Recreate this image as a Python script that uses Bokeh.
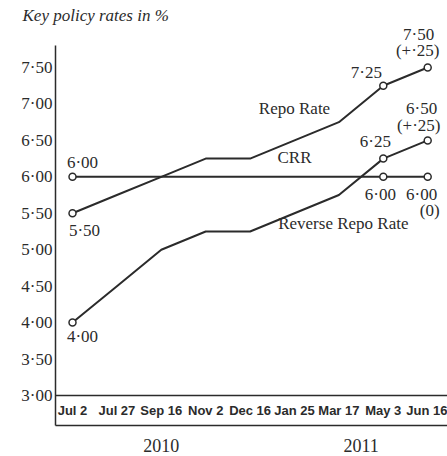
from bokeh.plotting import figure
from bokeh.models import Range1d, FixedTicker, LinearAxis, Label
from bokeh.embed import file_html
from bokeh.resources import INLINE

# ---- data ----
dates = ["Jul 2", "Jul 27", "Sep 16", "Nov 2", "Dec 16", "Jan 25", "Mar 17", "May 3", "Jun 16"]
years = ["2010", "2011"]
year_first_idx = [0, 5]
year_last_idx = [4, 8]
repo = [5.50, 5.75, 6.00, 6.25, 6.25, 6.50, 6.75, 7.25, 7.50]
reverse_repo = [4.00, 4.50, 5.00, 5.25, 5.25, 5.50, 5.75, 6.25, 6.50]
crr = [6.00, 6.00, 6.00, 6.00, 6.00, 6.00, 6.00, 6.00, 6.00]
y_ticks = [3.0, 3.5, 4.0, 4.5, 5.0, 5.5, 6.0, 6.5, 7.0, 7.5]
y_tick_labels = ["3·00", "3·50", "4·00", "4·50", "5·00", "5·50", "6·00", "6·50", "7·00", "7·50"]
marked_idx = [0, 7, 8]
last_change = {"repo": "(+·25)", "reverse": "(+·25)", "crr": "(0)"}

series = {"repo": repo, "reverse": reverse_repo, "crr": crr}
x = list(range(len(dates)))

INK = "#2b2b2b"
SERIF = "Liberation Serif"
Y_BOTTOM = 2.588
Y_AXIS_TOP = 7.80

p = figure(width=447, height=456,
           x_range=Range1d(-0.383, 8.446), y_range=Range1d(Y_BOTTOM, 8.09),
           output_backend="svg", toolbar_location=None,
           min_border_left=55, min_border_right=0, min_border_top=24, min_border_bottom=31)
p.outline_line_color = None
p.grid.visible = False
p.background_fill_color = "white"
p.border_fill_color = "white"

# title
p.title.text = "Key policy rates in %"
p.title.text_font = SERIF
p.title.text_font_style = "italic"
p.title.text_font_size = "17px"
p.title.text_color = INK
p.title.align = "left"
p.title.offset = -33
p.title.standoff = 0

# y axis
ya = p.yaxis[0]
ya.ticker = FixedTicker(ticks=y_ticks)
ya.bounds = (Y_BOTTOM, Y_AXIS_TOP)
ya.major_label_overrides = dict(zip(y_ticks, y_tick_labels))
ya.major_label_text_font = SERIF
ya.major_label_text_font_size = "17px"
ya.major_label_text_color = INK
ya.major_tick_line_color = None
ya.minor_tick_line_color = None
ya.major_tick_out = 0
ya.major_tick_in = 0
ya.major_label_standoff = 3
ya.axis_line_color = INK
ya.axis_line_width = 1.5

# year axis at frame bottom
xa = p.xaxis[0]
year_pos = [(a + b) / 2 for a, b in zip(year_first_idx, year_last_idx)]
xa.ticker = FixedTicker(ticks=year_pos)
xa.major_label_overrides = dict(zip(year_pos, years))
xa.major_label_text_font = SERIF
xa.major_label_text_font_size = "18px"
xa.major_label_text_color = INK
xa.major_tick_line_color = None
xa.minor_tick_line_color = None
xa.major_tick_out = 0
xa.major_tick_in = 0
xa.major_label_standoff = 13
xa.axis_line_color = INK
xa.axis_line_width = 1.5

# date axis at 3.00
da = LinearAxis(ticker=FixedTicker(ticks=x),
                major_label_overrides=dict(zip(x, dates)),
                fixed_location=3.0)
da.major_label_text_font = "Liberation Sans"
da.major_label_text_font_style = "bold"
da.major_label_text_font_size = "13px"
da.major_label_text_color = INK
da.major_tick_line_color = None
da.minor_tick_line_color = None
da.major_tick_out = 0
da.major_tick_in = 0
da.major_label_standoff = 8
da.axis_line_color = INK
da.axis_line_width = 1.5
p.add_layout(da, "below")

# lines and markers
for key, vals in series.items():
    p.line(x, vals, line_color=INK, line_width=2)
for key, vals in series.items():
    p.scatter([x[i] for i in marked_idx], [vals[i] for i in marked_idx],
              marker="circle", size=7, fill_color="white", line_color=INK, line_width=1.5)

def fmt(v):
    return f"{v:.2f}".replace(".", "·")

# value annotations: (series, index, dx, dy)
value_specs = [
    ("crr", 0, 10, 14), ("repo", 0, 12, -17), ("reverse", 0, 10, -14),
    ("repo", 7, -17, 13), ("repo", 8, -9, 33),
    ("reverse", 7, -8, 17), ("reverse", 8, -6, 32),
    ("crr", 7, -3, -18), ("crr", 8, -6, -18),
]
for key, i, dx, dy in value_specs:
    p.add_layout(Label(x=x[i], y=series[key][i], text=fmt(series[key][i]),
                       x_offset=dx, y_offset=dy, text_align="center", text_baseline="middle",
                       text_font=SERIF, text_font_size="17px", text_color=INK))
change_specs = [("repo", -10, 17), ("reverse", -9, 15), ("crr", 2, -34)]
last = len(x) - 1
for key, dx, dy in change_specs:
    p.add_layout(Label(x=x[last], y=series[key][last], text=last_change[key],
                       x_offset=dx, y_offset=dy, text_align="center", text_baseline="middle",
                       text_font=SERIF, text_font_size="17px", text_color=INK))

# series names
for txt, lx, ly in [("Repo Rate", 5.0, 6.94), ("CRR", 5.0, 6.26), ("Reverse Repo Rate", 6.1, 5.36)]:
    p.add_layout(Label(x=lx, y=ly, text=txt, text_align="center", text_baseline="middle",
                       text_font=SERIF, text_font_size="17px", text_color=INK))

open("out.html", "w").write(file_html(p, INLINE))
